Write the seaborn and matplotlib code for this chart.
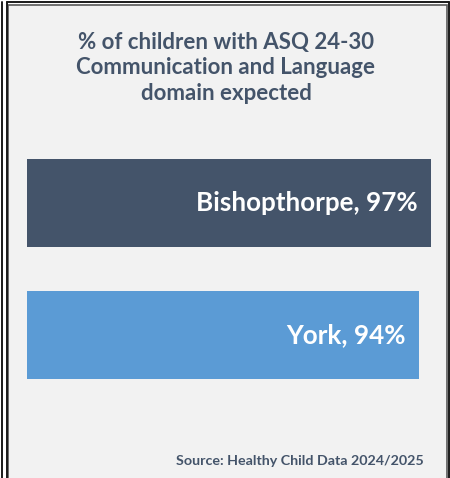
import matplotlib
matplotlib.use("Agg")
import matplotlib.pyplot as plt
from matplotlib.patches import Rectangle
import seaborn as sns
import pandas as pd

# Data
areas = ["Bishopthorpe", "York"]
percent_expected = [97, 94]
bar_colours = ["#44546a", "#5b9bd5"]

title_text = "% of children with ASQ 24-30\nCommunication and Language\ndomain expected"
source_text = "Source: Healthy Child Data 2024/2025"
text_colour = "#44546a"

sns.set_theme(style="white")
plt.rcParams["font.family"] = ["Lato", "DejaVu Sans"]

W, H = 450, 478
fig = plt.figure(figsize=(W / 100, H / 100), dpi=100, facecolor="white")


def fx(px):
    return px / W


def fy(py):
    return 1 - py / H


# Outer frame lines and the grey panel, kept behind the axes
frame_kw = dict(transform=fig.transFigure, color="#1a1a1a", lw=1.4, zorder=-5)
fig.add_artist(plt.Line2D([fx(1.5), fx(1.5)], [0, fy(2)], **frame_kw))
fig.add_artist(plt.Line2D([fx(6.5), fx(6.5)], [0, fy(1.5)], **frame_kw))
fig.add_artist(plt.Line2D([fx(6.5), fx(449)], [fy(1.5), fy(1.5)], **frame_kw))
fig.add_artist(plt.Line2D([fx(449), fx(449)], [0, fy(1.5)], **frame_kw))
fig.add_artist(Rectangle((fx(8), -0.01), fx(446.5) - fx(8), fy(5) + 0.01,
                         transform=fig.transFigure, facecolor="#f2f2f2",
                         edgecolor="#595959", lw=1.2, zorder=-6))

df = pd.DataFrame({"area": areas, "pct": percent_expected})

ax = fig.add_axes([fx(27), fy(401), fx(443.5) - fx(27), (401 - 137) / H])
ax.set_zorder(1)
sns.barplot(data=df, y="area", x="pct", hue="area", palette=bar_colours,
            orient="h", width=0.667, legend=False, ax=ax, saturation=1,
            linewidth=0)
ax.set_xlim(0, 100)
ax.set_ylim(1.5, -0.5)
ax.axis("off")
ax.patch.set_visible(False)

for i, (name, val) in enumerate(zip(areas, percent_expected)):
    ax.annotate(f"{name}, {val}%", xy=(val, i), xytext=(-9.4, 0),
                textcoords="offset points", ha="right", va="center",
                color="white", fontsize=18.7, fontweight="bold")

title = fig.text(fx(226), fy(68), title_text, ha="center", va="center",
                 color=text_colour, fontsize=16, fontweight="bold", linespacing=1.28)
title.set_zorder(2)
src = fig.text(fx(424), fy(461), source_text, ha="right", va="center",
               color=text_colour, fontsize=10.3, fontweight="bold")
src.set_zorder(2)

fig.savefig("out.png", dpi=100, facecolor="white")
